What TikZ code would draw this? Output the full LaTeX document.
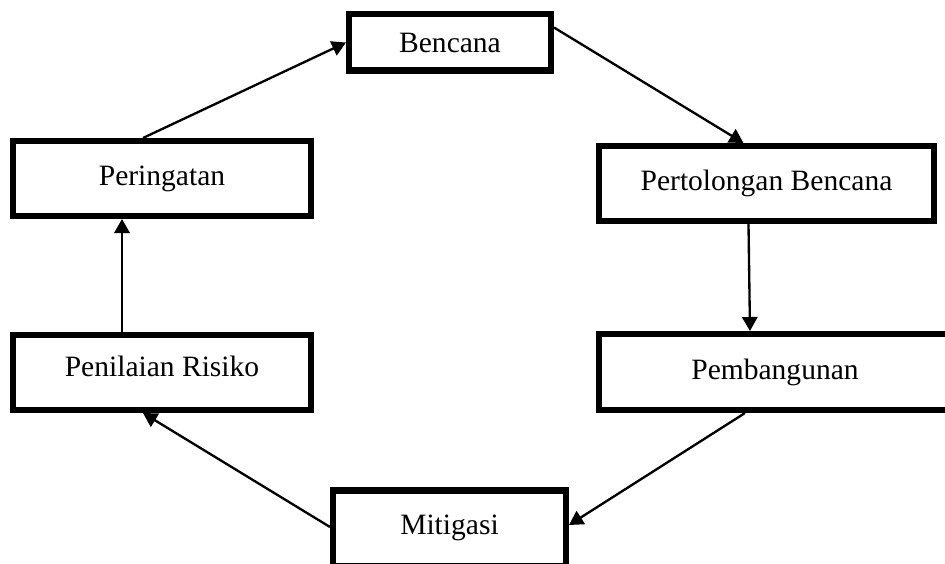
\documentclass[tikz,border=0pt]{standalone}
\usepackage{fontspec}
\setmainfont{Liberation Serif}
\usetikzlibrary{arrows.meta,calc}

\begin{document}
\begin{tikzpicture}[
      x=0.03cm,y=-0.03cm,
      tahap/.style={
        rectangle,
        draw=black,
        fill=white,
        line width=0.195cm,
        inner sep=0pt,
        font=\fontsize{25.2pt}{29pt}\selectfont
      },
      panah/.style={
        line width=0.07cm,
        -{Triangle[length=0.42cm,width=0.46cm]}
      }
    ]
      \useasboundingbox (0,0) rectangle (945,564);
      \clip (0,0) rectangle (945,564);

      \node (bencana) at (450,42.5) [tahap,minimum width=6.045cm,minimum height=1.695cm]{Bencana};
      \node (pertolongan) at (766.5,183.5) [tahap,minimum width=10.035cm,minimum height=2.235cm]{Pertolongan Bencana};
      \node (pembangunan) at (775,372) [tahap,minimum width=10.545cm,minimum height=2.265cm]{Pembangunan};
      \node (mitigasi) at (449.5,528) [tahap,minimum width=6.975cm,minimum height=2.265cm]{Mitigasi};
      \node (penilaian) at (162,372.5) [tahap,text depth=11pt,minimum width=8.925cm,minimum height=2.235cm]{Penilaian Risiko};
      \node (peringatan) at (162,178.5) [tahap,minimum width=8.925cm,minimum height=2.235cm]{Peringatan};

      \draw[panah] ($(peringatan.north)+(-19,0)$) -- (bencana.west);
      \draw[panah] ($(bencana.east)+(0,-15)$) -- ($(pertolongan.north)+(-23,0)$);
      \draw[panah] ($(pertolongan.south)+(-18,0)$) -- ($(pembangunan.north)+(-25,0)$);
      \draw[panah] ($(pembangunan.south)+(-30,0)$) -- ($(mitigasi.east)+(0,-3)$);
      \draw[panah] ($(mitigasi.west)+(0,-1)$) -- ($(penilaian.south)+(-19,0)$);
      \draw[panah] ($(penilaian.north)+(-40,0)$) -- ($(peringatan.south)+(-40,0)$);

    \end{tikzpicture}
\end{document}
